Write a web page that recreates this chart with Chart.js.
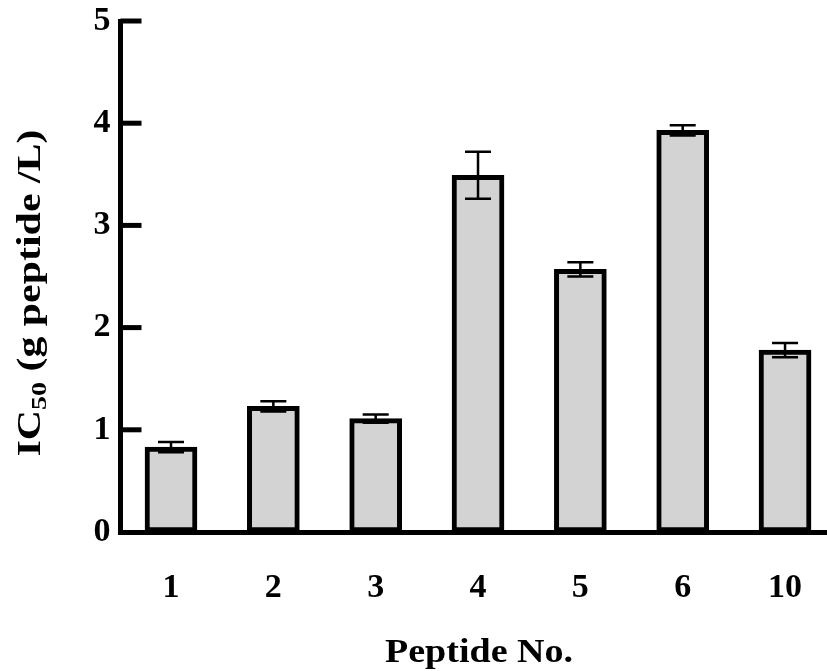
<!DOCTYPE html>
<html>
<head>
<meta charset="utf-8">
<script src="https://cdn.jsdelivr.net/npm/chart.js@4.4.1/dist/chart.umd.min.js"></script>
<style>
  html, body { margin: 0; padding: 0; background: #fff; overflow: hidden; }
  #wrap { width: 827px; height: 671px; }
</style>
</head>
<body>
<div id="wrap"><canvas id="chart"></canvas></div>
<script>
// values
const peptides = ["1", "2", "3", "4", "5", "6", "10"];
const ic50 = [0.83, 1.23, 1.11, 3.49, 2.57, 3.93, 1.78];
const ic50Err = [0.05, 0.05, 0.04, 0.23, 0.07, 0.05, 0.07];
const yTicks = [0, 1, 2, 3, 4, 5];

const FONT = "'Liberation Serif', 'Times New Roman', serif";

const points = peptides.map((p, i) => ({ x: i, y: ic50[i] }));

// error bars drawn over the bars
const errorBars = {
    id: "errorBars",
    afterDatasetsDraw(chart) {
        const ctx = chart.ctx;
        const yScale = chart.scales.y;
        const meta = chart.getDatasetMeta(0);
        ctx.save();
        ctx.strokeStyle = "#000";
        ctx.lineWidth = 2.5;
        meta.data.forEach((bar, i) => {
            const top = yScale.getPixelForValue(ic50[i] + ic50Err[i]);
            const bot = yScale.getPixelForValue(ic50[i] - ic50Err[i]);
            const half = 13;
            ctx.beginPath();
            ctx.moveTo(bar.x, top);
            ctx.lineTo(bar.x, bot);
            ctx.moveTo(bar.x - half, top);
            ctx.lineTo(bar.x + half, top);
            ctx.moveTo(bar.x - half, bot);
            ctx.lineTo(bar.x + half, bot);
            ctx.stroke();
        });
        ctx.restore();
    }
};

// text stretched to a given length (the reference face is wider than Times)
function fitText(ctx, parts, cx, cy, target) {
    let w = 0;
    parts.forEach(p => { ctx.font = p.font; w += ctx.measureText(p.text).width; });
    ctx.save();
    ctx.translate(cx, cy);
    ctx.scale(target / w, 1);
    let x = -w / 2;
    parts.forEach(p => {
        ctx.font = p.font;
        ctx.fillText(p.text, x, p.dy || 0);
        x += ctx.measureText(p.text).width;
    });
    ctx.restore();
}

// inward y ticks and both axis titles
const axisDecor = {
    id: "axisDecor",
    afterDraw(chart) {
        const ctx = chart.ctx;
        const yScale = chart.scales.y;
        const area = chart.chartArea;
        ctx.save();
        ctx.strokeStyle = "#000";
        ctx.lineWidth = 5;
        yTicks.slice(1).forEach(v => {
            const py = yScale.getPixelForValue(v);
            ctx.beginPath();
            ctx.moveTo(area.left, py);
            ctx.lineTo(area.left + 21, py);
            ctx.stroke();
        });

        ctx.fillStyle = "#000";
        ctx.textBaseline = "alphabetic";
        const big = "bold 33px " + FONT;
        const small = "bold 22px " + FONT;

        // x title
        fitText(ctx, [{ text: "Peptide No.", font: big }], 479, 662, 188);

        // y title, rotated, with subscript
        ctx.save();
        ctx.translate(40, 293);
        ctx.rotate(-Math.PI / 2);
        fitText(ctx, [
            { text: "IC", font: big },
            { text: "50", font: small, dy: 6 },
            { text: " (g peptide /L)", font: big }
        ], 0, 0, 327);
        ctx.restore();
        ctx.restore();
    }
};

new Chart(document.getElementById("chart"), {
    type: "bar",
    data: {
        datasets: [{
            data: points,
            backgroundColor: "#d3d3d3",
            borderColor: "#000",
            borderWidth: 5,
            borderSkipped: false,
            barThickness: 52
        }]
    },
    options: {
        responsive: true,
        maintainAspectRatio: false,
        animation: false,
        layout: { padding: { top: 21, right: 0, left: 0, bottom: 0 } },
        plugins: {
            legend: { display: false },
            tooltip: { enabled: false }
        },
        scales: {
            x: {
                type: "linear",
                offset: false,
                min: -0.4935,
                max: 6.41,
                afterBuildTicks(scale) {
                    scale.ticks = peptides.map((p, i) => ({ value: i }));
                },
                afterFit(scale) {
                    scale.height = 139;
                    scale.paddingLeft = 0;
                    scale.paddingRight = 0;
                },
                grid: { display: false, drawTicks: false },
                border: { color: "#000", width: 5 },
                ticks: {
                    padding: 36,
                    color: "#000",
                    font: { family: FONT, size: 34, weight: "bold" },
                    callback: (v) => peptides[v]
                },
                title: { display: false }
            },
            y: {
                min: 0,
                max: 5,
                afterBuildTicks(scale) {
                    scale.ticks = yTicks.map(v => ({ value: v }));
                },
                afterFit(scale) {
                    scale.width = 120.5;
                    scale.paddingTop = 0;
                    scale.paddingBottom = 0;
                },
                grid: { display: false, drawTicks: false },
                border: { color: "#000", width: 5 },
                ticks: {
                    padding: 10,
                    color: "#000",
                    font: { family: FONT, size: 34, weight: "bold" }
                }
            }
        }
    },
    plugins: [errorBars, axisDecor]
});
</script>
</body>
</html>
